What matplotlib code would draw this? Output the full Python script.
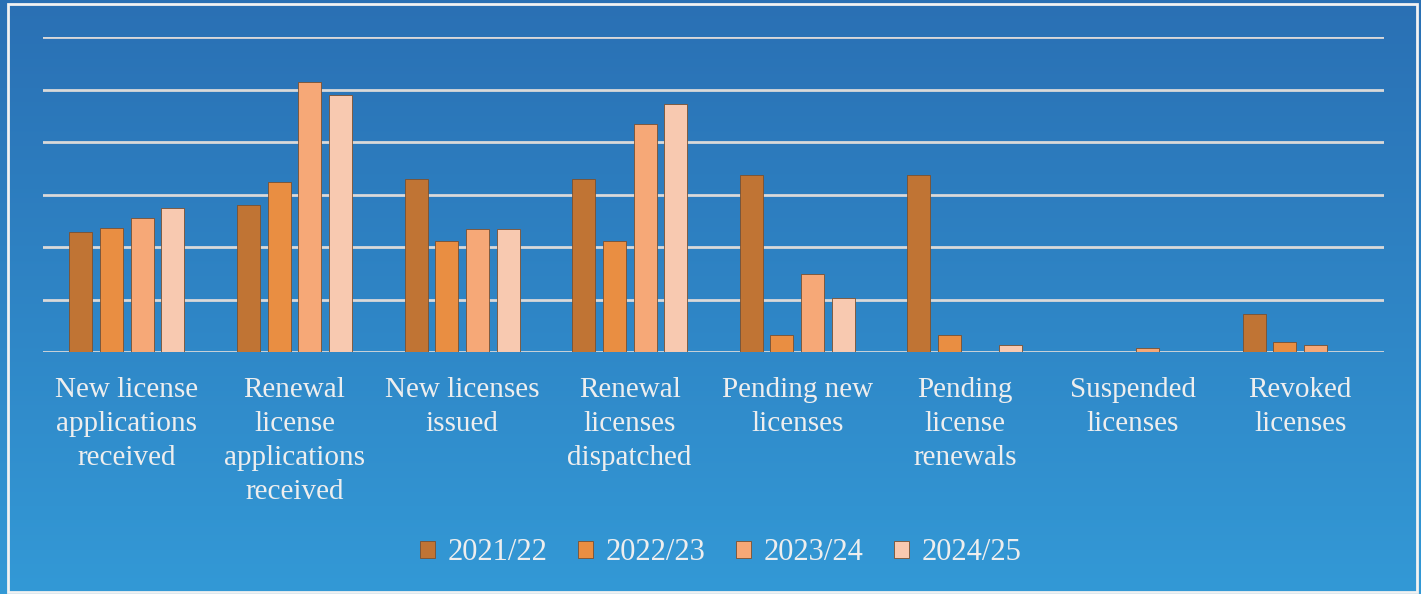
import matplotlib.pyplot as plt
import numpy as np
from matplotlib.patches import Rectangle

categories = ["New license\napplications\nreceived",
              "Renewal\nlicense\napplications\nreceived",
              "New licenses\nissued",
              "Renewal\nlicenses\ndispatched",
              "Pending new\nlicenses",
              "Pending\nlicense\nrenewals",
              "Suspended\nlicenses",
              "Revoked\nlicenses"]
years = ["2021/22", "2022/23", "2023/24", "2024/25"]
v2122 = [2.29, 2.80, 3.30, 3.30, 3.37, 3.37, 0.00, 0.72]
v2223 = [2.36, 3.24, 2.11, 2.11, 0.32, 0.32, 0.00, 0.19]
v2324 = [2.55, 5.14, 2.34, 4.34, 1.49, 0.00, 0.08, 0.13]
v2425 = [2.74, 4.90, 2.34, 4.72, 1.03, 0.13, 0.00, 0.00]
series = [v2122, v2223, v2324, v2425]
colors = ["#c07434", "#e98e42", "#f6a877", "#f8c9b0"]

plt.rcParams['font.family'] = ['Liberation Serif', 'DejaVu Serif']

fig = plt.figure(figsize=(14.21, 5.94), dpi=100)

# gradient background
bg = fig.add_axes([0, 0, 1, 1], zorder=-10)
top = np.array([42, 112, 180]) / 255
bot = np.array([51, 153, 214]) / 255
t = np.linspace(0, 1, 256)[:, None]
grad = top[None, :] * (1 - t) + bot[None, :] * t
bg.imshow(grad[:, None, :], aspect='auto', extent=[0, 1, 0, 1])
bg.add_patch(Rectangle((8 / 1421, 2 / 594), 1409 / 1421, 588 / 594,
                       fill=False, edgecolor='#f2f2f2', linewidth=2))
bg.set_xlim(0, 1)
bg.set_ylim(0, 1)
bg.axis('off')

ax = fig.add_axes([43 / 1421, 1 - 352 / 594, 1341 / 1421, 315 / 594])
ax.patch.set_alpha(0)

x = np.arange(len(categories))
w = 0.137
step = 0.183
for i in range(4):
    ax.bar(x + (i - 1.5) * step, series[i], width=w, color=colors[i],
           edgecolor='#7a5030', linewidth=0.6, label=years[i], zorder=3)

ax.set_xlim(-0.5, len(categories) - 0.5)
ax.set_ylim(0, 6)
ax.set_yticks(range(7))
ax.yaxis.grid(True, color='#d9d9d9', linewidth=2)
ax.set_axisbelow(True)
ax.tick_params(axis='y', left=False, labelleft=False)
ax.tick_params(axis='x', length=0, pad=18)
ax.set_xticks(x)
ax.set_xticklabels(categories, fontsize=21, color='#eeeeee', linespacing=1.4, va='top')
for s in ax.spines.values():
    s.set_visible(False)

leg = fig.legend(loc='center', bbox_to_anchor=(0.507, 1 - 553 / 594), ncol=4,
                 frameon=False, fontsize=22, handlelength=0.5, handleheight=0.5,
                 handletextpad=0.4, columnspacing=1.0, labelcolor='#eeeeee')

fig.savefig('out.png', dpi=100)
